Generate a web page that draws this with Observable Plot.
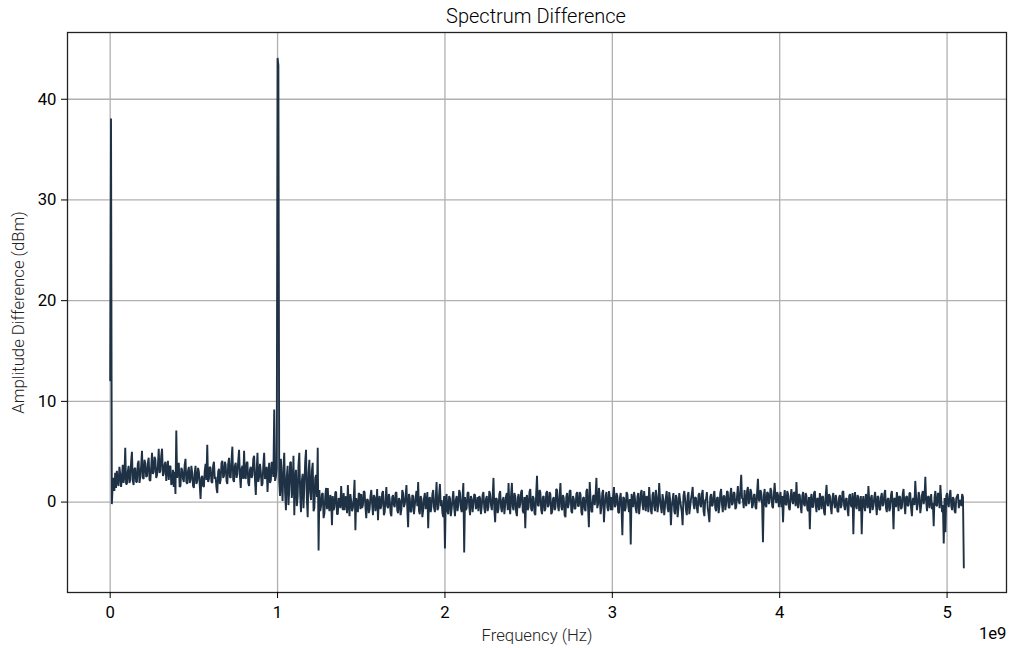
<!DOCTYPE html>
<html>
<head>
<meta charset="utf-8">
<script src="https://cdn.jsdelivr.net/npm/d3@7"></script>
<script src="https://cdn.jsdelivr.net/npm/@observablehq/plot@0.6"></script>
<style>
  html, body { margin: 0; padding: 0; background: #fff; }
  #title {
    width: 1010px; height: 24px; position: relative;
    font-family: Roboto, "DejaVu Sans", sans-serif; font-weight: 300;
    font-size: 20px; color: #000;
  }
  #title span { position: absolute; left: 536px; top: 6px; transform: translateX(-50%); white-space: nowrap; line-height: 1; }
</style>
</head>
<body>
<div id="title"><span>Spectrum Difference</span></div>
<div id="chart"></div>
<script>
// Amplitude difference (dBm), sampled every 5 MHz starting at 0 Hz.
const stepHz = 5e6;

// 0.000 – 0.995 GHz
const band0 = [
  12.1, 38.1, -0.2, 1.6, 2.4, 1.1, 2.9, 1.4, 3.1, 2.0, 1.6, 3.5, 2.8, 1.5, 2.3, 3.7, 1.9, 2.6, 5.4, 1.8,
  1.8, 3.0, 3.6, 1.9, 2.2, 4.0, 5.0, 2.1, 1.7, 3.3, 3.4, 2.0, 2.0, 3.8, 4.1, 1.9, 2.5, 3.6, 5.1, 2.4,
  2.3, 4.2, 3.8, 2.5, 2.6, 3.9, 4.4, 2.2, 2.1, 3.5, 4.9, 2.8, 3.0, 4.5, 4.2, 2.4, 2.7, 3.6, 5.3, 2.9,
  3.1, 4.6, 5.3, 2.6, 2.8, 3.7, 4.0, 2.1, 3.3, 4.1, 2.2, 3.5, 3.6, 1.7, 1.9, 3.2, 1.5, 3.0, 0.8, 7.1,
  2.4, 3.1, 3.9, 1.5, 1.6, 3.4, 3.2, 2.3, 2.0, 3.7, 4.3, 2.0, 1.8, 3.1, 3.5, 1.9, 2.2, 3.6, 2.9, 1.6,
  1.4, 2.9, 3.6, 1.8, 2.1, 3.4, 3.0, 1.7, 0.3, 2.4, 2.6, 1.6, 1.5, 3.1, 3.8, 2.2, 5.7, 2.0, 2.3, 3.5,
  3.4, 2.0, 1.9, 3.6, 4.0, 2.3, 2.5, 1.4, 0.9, 3.0, 3.3, 1.8, 2.2, 3.9, 4.1, 2.4, 2.6, 4.0, 3.7, 2.1,
  1.8, 3.8, 4.4, 2.5, 2.4, 4.2, 5.5, 2.2, 2.0, 3.6, 3.9, 2.4, 2.8, 4.1, 5.2, 2.6, 1.4, 3.3, 3.6, 2.3,
  5.1, 2.5, 2.3, 3.9, 4.0, 1.9, 1.6, 3.2, 3.5, 2.4, 2.7, 4.3, 4.6, 2.2, 0.7, 3.1, 4.9, 2.0, 2.5, 3.8,
  3.0, 1.6, 1.8, 3.7, 4.9, 2.3, 2.6, 3.5, 1.0, 2.8, 3.9, 1.9, 2.2, 4.0, 3.4, 2.5, 9.2, 2.1, 2.5, 3.3
];

// 1.000 – 1.995 GHz
const band1 = [
  44.1, 43.4, 2.0, 0.6, 4.3, 1.8, 0.1, 3.4, 4.9, 0.9, -0.8, 2.5, 3.6, -0.3, 1.2, 3.9, 4.0, 0.4, 1.5, 4.6,
  -1.3, 2.2, 3.2, -0.4, 0.5, 3.7, 4.9, 0.8, -1.0, 2.1, 2.8, -0.6, 1.5, 4.0, 5.2, 0.3, -1.5, 2.9, 4.2, 1.0,
  0.2, 3.1, 3.9, -0.9, -0.6, 2.4, 2.7, 0.5, 5.4, -4.8, 1.2, -0.9, -0.4, 0.8, 0.9, -1.6, -1.1, 0.6, 1.4, -0.7,
  1.4, -0.3, -0.9, 0.7, 0.3, -2.3, 0.6, -0.8, -0.5, 1.0, 1.0, -1.2, -1.2, 0.4, 0.2, -0.6, 1.6, -0.1, -0.8, 0.9,
  -0.8, 0.5, 0.5, -1.1, 1.7, -0.2, -1.4, 0.8, 0.1, -0.9, -0.6, 0.4, 2.2, -2.8, 0.4, -0.3, -1.0, 0.9, 0.8, -0.7,
  0.8, -0.6, -0.3, 1.1, 1.0, -0.5, -1.6, 0.3, 0.2, -1.1, -0.7, 0.6, 1.2, -0.2, -1.3, 0.7, 0.5, -0.9, -0.2, 1.3,
  -1.8, 0.2, 0.6, -0.7, -0.4, 0.9, 1.1, -1.3, -1.0, 0.3, 1.5, -0.4, -0.6, 0.8, 0.3, -1.1, -1.4, 0.5, 0.7, -0.3,
  -0.5, 0.9, 1.0, -0.8, -1.1, 0.4, 0.2, -1.3, -0.7, 1.2, 0.9, -0.5, -0.2, 0.6, 1.7, -0.6, -2.5, 0.8, 0.4, -1.0,
  -0.9, 0.7, 0.6, -1.2, -0.3, 0.5, 1.1, -0.4, 2.0, -0.9, -1.2, 0.6, 0.3, -1.5, -0.8, 0.4, 0.9, -0.7, -0.1, 1.0,
  -2.6, 0.3, 0.5, -1.0, -0.4, 0.8, 1.2, -0.6, -1.0, 0.4, 2.0, -0.8, -0.6, 0.7, 1.8, -0.4, 0.2, -1.1, -1.5, 0.6
];

// 2.000 – 2.995 GHz
const band2 = [
  -4.6, 0.4, 0.8, -0.9, -1.2, 0.6, 0.4, -1.4, -0.7, 0.3, 1.1, -0.5, -1.4, 0.2, 0.6, -0.9, -0.3, 1.2, 0.9, -0.6,
  -1.0, 0.5, 1.9, -5.0, 0.5, -0.8, -0.6, 0.9, 1.0, -0.4, -1.3, 0.6, 0.3, -1.0, -0.2, 0.8, 0.7, -0.7, -0.4, 0.5,
  -0.9, 0.6, 0.4, -1.2, -0.4, 0.7, 1.0, -0.6, -1.1, 0.3, 0.6, -0.9, -0.5, 1.1, 0.8, -0.3, -0.8, 0.5, 2.4, -0.7,
  -2.0, 0.4, 0.3, -1.1, -0.7, 0.8, 1.1, -0.5, -1.0, 0.2, 0.5, -1.2, -0.3, 0.6, 0.9, -0.8, 1.9, -0.4, -1.2, 0.7,
  1.9, -0.5, -0.8, 0.9, 0.6, -1.0, -1.4, 0.4, 0.8, -0.6, -0.2, 1.0, 1.2, -0.9, -1.1, 0.5, -2.6, 0.3, 0.7, -0.8,
  -0.5, 1.0, 1.3, -0.7, -0.9, 0.6, 0.4, -1.1, -1.3, 0.8, 2.6, -0.3, -0.4, 1.2, 1.0, -0.8, -1.2, 0.5, 0.6, -0.9,
  -0.7, 0.9, 1.1, -0.5, -0.3, 1.0, 0.8, -1.2, -1.0, 0.3, 0.5, -0.8, -0.6, 1.3, 1.2, -0.4, -0.9, 0.6, 1.9, -0.5,
  -0.8, 0.7, 0.4, -1.3, -1.5, 0.5, 0.9, -0.6, -0.2, 1.1, 1.2, -0.9, -1.1, 0.6, 0.3, -0.7, -0.6, 0.8, 1.0, -0.4,
  -0.4, 1.0, 0.8, -1.0, -1.3, 0.4, 0.5, -0.7, -0.9, 1.1, 1.3, -0.5, -2.5, 2.0, 0.3, -0.9, -1.0, 0.6, 0.7, -0.3,
  0.7, 2.4, -0.6, -0.2, 1.4, 0.6, -1.2, -0.5, 0.9, 1.2, -2.0, -0.4, 0.6, 1.0, -0.5, -0.9, 1.1, 0.4, -0.8, 0.5
];

// 3.000 – 3.995 GHz
const band3 = [
  -0.8, 0.6, 1.5, -0.5, -0.3, 0.9, 0.6, -1.0, -1.1, 0.4, 0.9, -0.6, -3.3, 0.5, 0.4, -0.9, -0.6, 1.0, 0.8, -0.4,
  -1.0, 0.3, -4.2, 0.8, 0.3, -0.5, 1.0, 0.4, -0.7, -1.1, 0.5, 0.9, -1.2, -0.3, 0.9, 1.2, -0.2, -0.8, 1.1, 0.2,
  -0.9, 0.6, 0.4, -1.0, 1.5, 0.3, -0.8, -1.2, 0.7, 1.0, -0.4, -0.9, 1.2, 0.5, -1.0, -0.3, 1.9, 0.4, -0.5, -1.1,
  0.8, 0.2, -1.3, -0.4, 0.5, 1.1, -0.6, -1.0, 1.0, 0.3, -2.3, -0.5, 0.2, 0.9, -0.9, -1.2, 0.7, 0.4, -1.5, -0.6,
  0.9, 0.2, -0.4, -1.0, -2.3, 0.6, 1.1, 0.3, -0.8, -1.3, 0.6, 1.0, -1.2, -0.5, 0.3, 0.8, 1.5, -0.2, -0.7, 0.5,
  0.4, -0.6, -1.1, 0.7, 0.9, -0.3, -0.5, 0.8, 1.2, -0.9, -1.4, 0.2, 0.3, 1.0, -0.6, -1.2, -2.0, 0.5, 0.8, -0.4,
  -0.3, 0.7, 1.1, -0.6, -0.9, 0.4, 0.5, -1.1, -0.4, 0.9, 1.3, -0.2, -1.0, 0.6, 0.6, -0.8, -0.2, 1.1, 1.0, -0.5,
  -0.6, 0.8, 1.4, -0.3, -0.1, 1.0, 0.9, -0.7, -0.5, 0.6, 1.6, 0.1, -0.2, 1.2, 2.7, 0.4, 0.3, -0.6, 1.2, 0.0,
  -0.4, 1.1, 1.5, -0.2, 0.2, 1.3, 1.0, -0.6, -0.3, 0.7, 0.8, -0.5, -0.7, 1.0, 2.3, 0.2, 0.1, 1.2, 0.9, -0.3,
  -4.0, 0.6, 1.3, -0.3, -0.5, 1.0, 0.9, -0.2, 0.2, 1.4, 1.1, -0.4, -0.6, 0.8, 1.9, 0.3, -0.1, 1.0, 0.7, -0.5
];

// 4.000 – 5.100 GHz
const band4 = [
  0.4, 1.0, -0.5, 0.6, -2.0, 0.3, 1.2, -0.2, -0.3, 1.1, 0.8, -0.6, -0.8, 0.5, 1.3, 0.2, -0.2, 1.0, 0.9, -0.4,
  2.0, 0.1, -0.6, 0.8, 0.7, -0.4, -1.1, 0.6, 1.0, -0.2, -0.4, 0.9, 0.6, -0.7, -0.9, 0.5, -2.7, 0.3, 0.8, -0.5,
  -0.5, 0.9, 1.1, -0.3, -1.0, 0.4, 0.3, -0.8, 0.9, 0.2, -0.7, 0.6, 0.5, -1.0, -1.3, 0.7, 1.7, -0.2, -0.4, 0.8,
  0.6, -0.5, -1.2, 0.4, 0.9, -0.1, -0.6, 0.7, 0.2, -0.9, -1.0, 0.5, 0.7, -0.6, -0.3, 1.0, 1.1, -0.4, -0.8, 0.3,
  0.4, -0.7, -1.4, 0.6, 0.8, -0.3, -0.5, 0.9, -3.2, 0.2, 1.0, -0.4, -0.7, 0.7, 0.5, -0.9, -0.2, 0.6, -3.2, -0.1,
  0.6, -0.4, -0.9, 0.8, 0.3, -0.6, 1.6, 0.1, -1.1, 0.4, 0.7, -0.8, -0.4, 0.5, 1.0, -0.3, -1.3, 0.6, 0.5, -0.7,
  -0.8, 0.5, 0.9, -0.4, -0.2, 0.8, 1.2, -0.6, -1.0, 0.3, 0.4, -0.9, -0.6, 0.7, 1.1, -0.2, -2.7, 0.4, 0.3, -0.5,
  1.0, 0.2, -0.9, 0.6, 0.5, -0.7, -0.5, 0.8, 1.3, -0.2, -1.2, 0.5, 0.6, -0.4, -0.3, 0.9, 0.9, -0.6, -1.4, 0.3,
  0.4, -0.3, 2.1, 0.5, -0.8, -0.2, 1.0, 0.6, -1.1, -0.4, 0.7, 1.1, -0.2, 0.4, 2.5, 0.1, -0.9, 0.5, 0.6, -0.6,
  0.1, 0.8, -0.7, -0.1, -2.4, 0.5, 1.1, -0.3, -0.4, 0.9, 0.8, -0.6, 1.7, 0.2, -1.0, -0.3, -4.1, 0.4, -3.0, 0.6,
  0.9, -0.2, -0.5, 0.7, 1.2, -0.4, -0.8, 0.5, 0.3, -0.9, -1.1, 0.4, 0.6, 0.8, -0.6, 0.1, 0.2, -0.4, 0.8, 0.5,
  -6.5
];

const xTicks = [0, 1e9, 2e9, 3e9, 4e9, 5e9];
const yTicks = [0, 10, 20, 30, 40];

const amplitudes = [...band0, ...band1, ...band2, ...band3, ...band4];
const spectrum = amplitudes.map((a, i) => ({freq: i * stepHz, amp: a}));

const gridColor = "#b0b0b0";
const tickFont = 16.7;

const chart = Plot.plot({
  width: 1010,
  height: 624,
  marginTop: 8,
  marginBottom: 56,
  marginLeft: 67,
  marginRight: 4,
  style: {fontFamily: "Roboto, 'DejaVu Sans', sans-serif", fontSize: "16.7px", color: "#000", background: "#fff"},
  x: {domain: [-0.255e9, 5.355e9], ticks: xTicks, tickFormat: d => String(d / 1e9)},
  y: {domain: [-8.98, 46.63], ticks: yTicks},
  marks: [
    Plot.gridX(xTicks, {stroke: gridColor, strokeOpacity: 1, strokeWidth: 1.3}),
    Plot.gridY(yTicks, {stroke: gridColor, strokeOpacity: 1, strokeWidth: 1.3}),
    Plot.line(spectrum, {x: "freq", y: "amp", stroke: "#1f3245", strokeWidth: 1.9, strokeLinejoin: "miter"}),
    Plot.frame({stroke: "#222", strokeWidth: 1.3}),
    Plot.axisX(xTicks, {tickSize: 6, tickPadding: 8, tickFormat: d => String(d / 1e9), label: null, fontSize: tickFont}),
    Plot.axisY(yTicks, {tickSize: 6, tickPadding: 5, label: null, fontSize: tickFont}),
    Plot.text(["Frequency (Hz)"], {frameAnchor: "bottom", dy: 43, lineAnchor: "middle", fontSize: 16.7, fontWeight: 300, fill: "#222"}),
    Plot.text(["Amplitude Difference (dBm)"], {frameAnchor: "left", dx: -49, rotate: -90, textAnchor: "middle", lineAnchor: "middle", fontSize: 16.7, fontWeight: 300, fill: "#222"}),
    Plot.text(["1e9"], {frameAnchor: "bottom-right", dy: 41, textAnchor: "end", lineAnchor: "middle", fontSize: tickFont})
  ]
});

document.getElementById("chart").appendChild(chart);
</script>
</body>
</html>
